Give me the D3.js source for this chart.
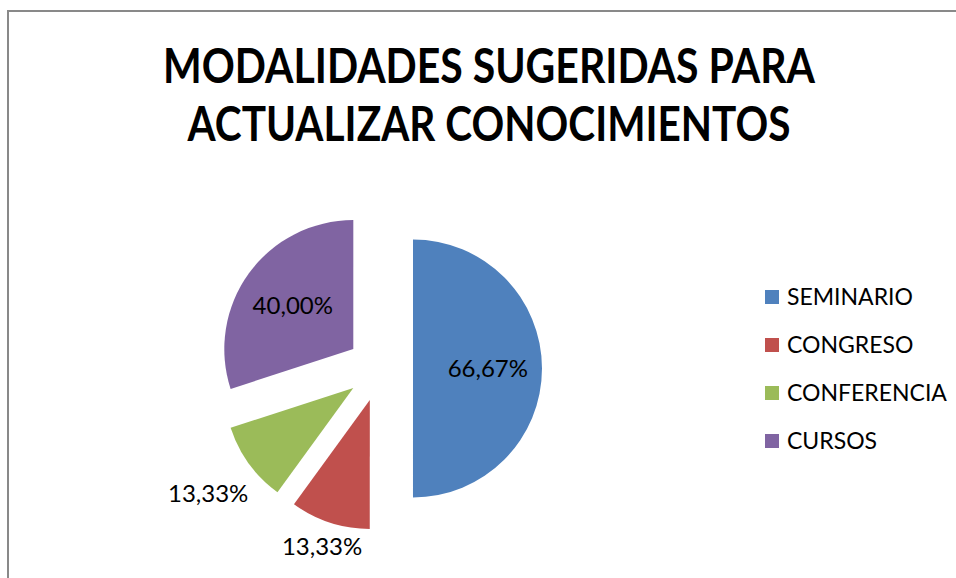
<!DOCTYPE html>
<html>
<head>
<meta charset="utf-8">
<script src="https://cdn.jsdelivr.net/npm/d3@7"></script>
<style>
  body { margin: 0; background: #fff; }
  svg { display: block; }
</style>
</head>
<body>
<svg id="chart" width="956" height="578"></svg>
<script>
// data
const categories = ['SEMINARIO', 'CONGRESO', 'CONFERENCIA', 'CURSOS'];
const values = [66.67, 13.33, 13.33, 40.00];
const colors = ['#4F81BD', '#C0504D', '#9BBB59', '#8064A2'];
const labelInside = [true, false, false, true];
const titleLines = ['MODALIDADES SUGERIDAS PARA', 'ACTUALIZAR CONOCIMIENTOS'];

const font = 'Lato, Carlito, "Open Sans", sans-serif';
const cx = 380, cy = 368.5, radius = 129, explode = 33;

const locale = d3.formatLocale({decimal: ',', thousands: '.', grouping: [3], currency: ['', '']});
const fmt = v => locale.format('.2f')(v) + '%';

let svg = d3.select('#chart');

// chart area border (only left and top edges fall inside the window)
svg.append('rect')
  .attr('x', 8).attr('y', 11)
  .attr('width', 1200).attr('height', 1200)
  .attr('fill', 'none')
  .attr('stroke', '#898989')
  .attr('stroke-width', 2);

// title
let title = svg.append('g')
  .attr('font-family', font)
  .attr('font-weight', 'bold')
  .attr('font-size', 48)
  .attr('fill', '#000')
  .attr('text-anchor', 'middle');

title.selectAll('text')
  .data(titleLines)
  .join('text')
  .attr('x', 489)
  .attr('y', (d, i) => 83 + i * 58)
  .attr('textLength', (d, i) => i == 0 ? 652 : 603)
  .attr('lengthAdjust', 'spacingAndGlyphs')
  .text(d => d);

// pie
let pie = d3.pie().sort(null).value(d => d)
let arcs = pie(values);
let arc = d3.arc().innerRadius(0).outerRadius(radius);

let dir = a => [Math.sin(a), -Math.cos(a)];
let mid = d => (d.startAngle + d.endAngle) / 2;

let slices = svg.append('g')
  .attr('transform', `translate(${cx},${cy})`);

slices.selectAll('path')
  .data(arcs)
  .join('path')
  .attr('transform', d => {
    let [dx, dy] = dir(mid(d));
    return `translate(${dx * explode},${dy * explode})`;
  })
  .attr('fill', (d, i) => colors[i])
  .attr('d', arc);

// data labels: inside ones near the centroid, outside ones pushed past the rim
function labelPos(d, i) {
  let [dx, dy] = dir(mid(d));
  let r = labelInside[i]
    ? radius * 0.58
    : radius - 3 + Math.abs(dx) * 58 + Math.abs(dy) * 11;
  return [dx * (explode + r), dy * (explode + r)];
}

slices.selectAll('text')
  .data(arcs)
  .join('text')
  .attr('font-family', font)
  .attr('font-size', 24)
  .attr('fill', '#000')
  .attr('text-anchor', 'middle')
  .attr('dy', '0.35em')
  .attr('x', (d, i) => labelPos(d, i)[0])
  .attr('y', (d, i) => labelPos(d, i)[1])
  .text((d, i) => fmt(values[i]));

// legend
let legend = svg.append('g')
  .attr('transform', 'translate(765,297)');

let items = legend.selectAll('g')
  .data(categories)
  .join('g')
  .attr('transform', (d, i) => `translate(0,${i * 48})`);

items.append('rect')
  .attr('x', 0).attr('y', -7)
  .attr('width', 14).attr('height', 14)
  .attr('fill', (d, i) => colors[i]);

items.append('text')
  .attr('x', 22)
  .attr('dy', '0.35em')
  .attr('font-family', font)
  .attr('font-size', 23)
  .attr('fill', '#000')
  .text(d => d);
</script>
</body>
</html>
